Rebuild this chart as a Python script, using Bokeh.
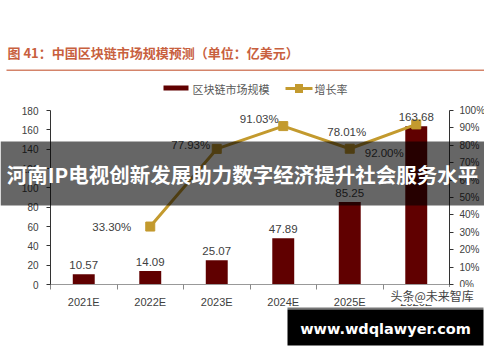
from bokeh.plotting import figure
from bokeh.models import (ColumnDataSource, Range1d, LinearAxis, FixedTicker, LabelSet,
                          Label, BoxAnnotation, PrintfTickFormatter)
from bokeh.embed import file_html
from bokeh.resources import INLINE
from bokeh.core.properties import value

# ---------------- data ----------------
years = ["2021E", "2022E", "2023E", "2024E", "2025E", "2026E"]
market = [10.57, 14.09, 25.07, 47.89, 85.25, 163.68]          # 亿美元
growth_years = ["2022E", "2023E", "2024E", "2025E", "2026E"]
growth = [33.30, 77.93, 91.03, 78.01, 92.00]                  # %
left_ticks = [0, 20, 40, 60, 80, 100, 120, 140, 160, 180]
right_ticks = [0, 10, 20, 30, 40, 50, 60, 70, 80, 90, 100]

title_text = "图 41：中国区块链市场规模预测（单位：亿美元）"
bar_name = "区块链市场规模"
line_name = "增长率"
banner_text = "河南IP电视创新发展助力数字经济提升社会服务水平"
site_text = "www.wdqlawyer.com"
mark_text = "头条@未来智库"

# ---------------- style / layout ----------------
BAR = "#600000"
GOLD = "#C39A2E"
TXT = "#404040"
TITLE_C = "#C8603E"
LAT = "Liberation Sans"
CJK = "Noto Sans CJK SC"
growth_dx = [-19, -26, -24, -3, -32]
growth_dy = [0, 4, 7, 17, -29]
growth_align = ["right", "center", "center", "center", "center"]

W, H = 484, 346
# plot area inside the canvas (canvas px): left, right, top, bottom
PL, PR, PT, PB = 50, 449, 110, 284

n = len(years)
ymin, ymax = left_ticks[0], left_ticks[-1]
pmin, pmax = right_ticks[0], right_ticks[-1]
kx = (PR - PL) / n
ky = (PB - PT) / (ymax - ymin)
x_start, x_end = -PL / kx, n + (W - PR) / kx
y_start, y_end = ymin - (H - PB) / ky, ymax + PT / ky
ratio = (ymax - ymin) / (pmax - pmin)

p = figure(width=W, height=H, output_backend="svg", toolbar_location=None,
           x_range=Range1d(x_start, x_end), y_range=Range1d(y_start, y_end),
           min_border=0, x_axis_location=None, y_axis_location=None)
p.outline_line_color = None
p.xgrid.grid_line_color = None
p.ygrid.grid_line_color = None
p.background_fill_color = "white"
p.border_fill_color = "white"
p.extra_y_ranges = {"pct": Range1d(pmin + (y_start - ymin) / ratio, pmin + (y_end - ymin) / ratio)}

xs = [i + 0.5 for i in range(n)]
src = ColumnDataSource(dict(x=xs, v=market, lbl=["%.2f" % v for v in market]))
p.vbar(x="x", top="v", width=0.33, source=src, fill_color=BAR, line_color=None)

gx = [xs[years.index(y)] for y in growth_years]
gsrc = ColumnDataSource(dict(x=gx, g=growth, lbl=["%.2f%%" % g for g in growth],
                             dx=growth_dx, dy=growth_dy, al=growth_align))
p.line(x="x", y="g", source=gsrc, y_range_name="pct", line_color=GOLD, line_width=3)
p.scatter(x="x", y="g", source=gsrc, y_range_name="pct", marker="square", size=9,
          fill_color=GOLD, line_color=GOLD)

p.add_layout(LabelSet(x="x", y="v", text="lbl", source=src, y_offset=5,
                      text_align="center", text_baseline="bottom",
                      text_font=value(LAT), text_font_size="11.5px", text_color=TXT))
p.add_layout(LabelSet(x="x", y="g", text="lbl", source=gsrc, y_range_name="pct",
                      x_offset="dx", y_offset="dy", text_align="al", text_baseline="middle",
                      text_font=value(LAT), text_font_size="11.5px", text_color=TXT))

# ---------------- axes (fixed at the plot-area edges) ----------------
def style_axis(a, size, standoff):
    a.major_label_text_font = LAT
    a.major_label_text_font_size = size
    a.major_label_text_color = TXT
    a.major_label_standoff = standoff

xa = LinearAxis(fixed_location=ymin, bounds=(0, n),
                ticker=FixedTicker(ticks=xs, minor_ticks=list(range(n + 1))))
xa.major_label_overrides = {x: y for x, y in zip(xs, years)}
xa.major_tick_out = 0
xa.major_tick_in = 0
xa.minor_tick_out = 5
xa.minor_tick_in = 0
xa.minor_tick_line_color = "#888888"
xa.axis_line_color = "#999999"
style_axis(xa, "11px", 6)
p.add_layout(xa, "below")

ya = LinearAxis(fixed_location=0, bounds=(ymin, ymax), ticker=FixedTicker(ticks=left_ticks))
ya.major_tick_out = 4
ya.major_tick_in = 0
ya.minor_tick_line_color = None
ya.axis_line_color = "#333333"
ya.major_tick_line_color = "#333333"
style_axis(ya, "10px", 8)
p.add_layout(ya, "left")

ra = LinearAxis(y_range_name="pct", fixed_location=n, bounds=(pmin, pmax),
                ticker=FixedTicker(ticks=right_ticks), formatter=PrintfTickFormatter(format="%d%%"))
ra.major_tick_out = 4
ra.major_tick_in = 0
ra.minor_tick_line_color = None
ra.axis_line_color = "#333333"
ra.major_tick_line_color = "#333333"
style_axis(ra, "10px", 6)
p.add_layout(ra, "right")

# ---------------- annotations (page px -> screen units) ----------------
def sx(px):
    return px - 8

def sy(py):
    return H - (py - 8)

def box(l, t, r, b, color, alpha=1.0):
    p.add_layout(BoxAnnotation(left=sx(l), right=sx(r), top=sy(t), bottom=sy(b),
                               left_units="screen", right_units="screen",
                               top_units="screen", bottom_units="screen",
                               fill_color=color, fill_alpha=alpha, line_color=None,
                               level="overlay"))

def label(text, px, py, size, color, font, style="normal", align="left", bg=None):
    p.add_layout(Label(text=text, x=sx(px), y=sy(py), x_units="screen", y_units="screen",
                       text_align=align, text_baseline="middle", text_font=font,
                       text_font_size=size, text_font_style=style, text_color=color,
                       background_fill_color=bg, level="overlay"))

# title + underline
label(title_text, 15, 60, "13px", TITLE_C, CJK, style="bold")
box(14, 77, 492, 78.5, "#D4846A")
# legend
box(171, 93, 196, 98, BAR)
label(bar_name, 200, 96, "11px", "#595959", CJK)
box(293, 94.5, 320, 97.5, GOLD)
box(302.5, 91.5, 310.5, 100.5, GOLD)
label(line_name, 322, 96, "11px", "#595959", CJK)
# watermark
label(mark_text, 398, 303, "12px", "#444444", CJK, bg="white")
# banner
box(8, 149, 492, 213, "black", 0.6)
label(banner_text, 250, 181, "20.5px", "white", CJK, style="bold", align="center")
# site box
box(295, 315, 491, 317, "#777777")
box(295, 317, 491, 353, "black")
label(site_text, 393, 336, "14.5px", "white", "DejaVu Sans", style="bold", align="center")

open("out.html", "w").write(file_html(p, INLINE))
